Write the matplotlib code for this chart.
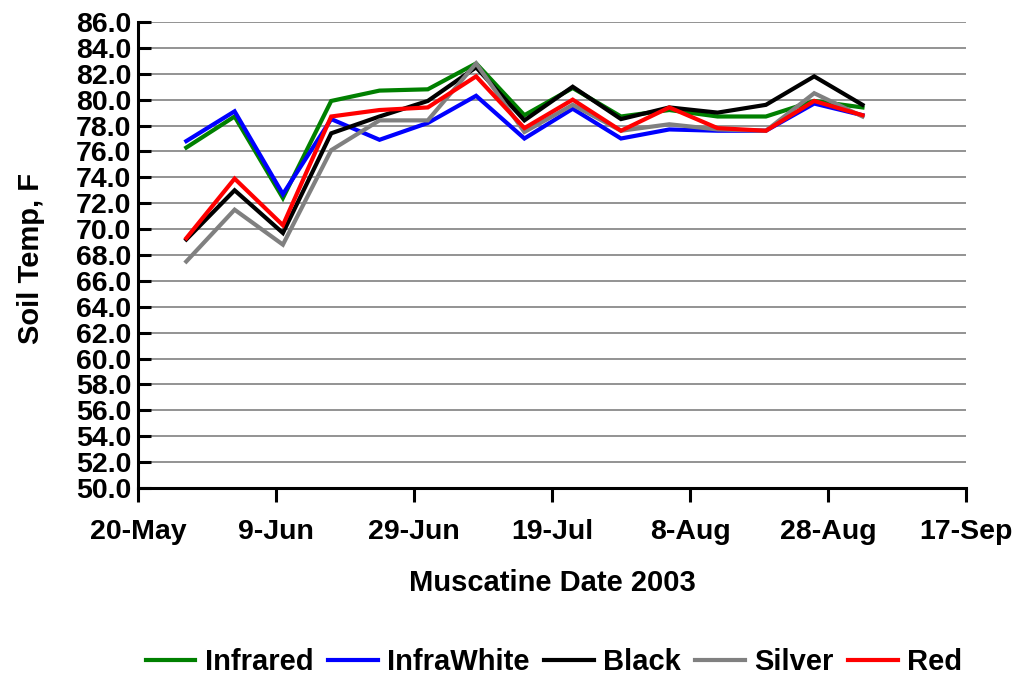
import matplotlib
matplotlib.use("Agg")
import matplotlib.pyplot as plt
import datetime as dt

dates = ["2003-05-27", "2003-06-03", "2003-06-10", "2003-06-17", "2003-06-24",
         "2003-07-01", "2003-07-08", "2003-07-15", "2003-07-22", "2003-07-29",
         "2003-08-05", "2003-08-12", "2003-08-19", "2003-08-26", "2003-09-02"]

infrared   = [76.3, 78.7, 72.4, 79.9, 80.7, 80.8, 82.8, 78.8, 80.9, 78.7, 79.2, 78.7, 78.7, 79.9, 79.4]
infrawhite = [76.8, 79.1, 72.7, 78.5, 76.9, 78.2, 80.3, 77.0, 79.3, 77.0, 77.7, 77.6, 77.6, 79.7, 78.8]
black      = [69.2, 73.0, 69.7, 77.4, 78.7, 79.9, 82.5, 78.4, 81.0, 78.5, 79.4, 79.0, 79.6, 81.8, 79.6]
silver     = [67.5, 71.5, 68.8, 76.1, 78.4, 78.4, 82.8, 77.5, 79.6, 77.6, 78.1, 77.7, 77.6, 80.5, 78.7]
red        = [69.3, 73.9, 70.3, 78.7, 79.2, 79.4, 81.8, 77.8, 80.0, 77.6, 79.4, 77.8, 77.6, 79.9, 78.8]

series_names = ["Infrared", "InfraWhite", "Black", "Silver", "Red"]
series_colors = ["#008000", "#0000FF", "#000000", "#808080", "#FF0000"]

tick_dates = ["2003-05-20", "2003-06-09", "2003-06-29", "2003-07-19",
              "2003-08-08", "2003-08-28", "2003-09-17"]
tick_labels = ["20-May", "9-Jun", "29-Jun", "19-Jul", "8-Aug", "28-Aug", "17-Sep"]

y_ticks = [50 + 2 * i for i in range(19)]

plt.rcParams['font.family'] = ['Liberation Sans', 'DejaVu Sans']
plt.rcParams['font.weight'] = 'bold'

fig = plt.figure(figsize=(10.21, 6.77), dpi=100)
ax = fig.add_axes([138 / 1021, 1 - 488 / 677, (966 - 138) / 1021, (488 - 22) / 677])

x = [dt.datetime.strptime(d, "%Y-%m-%d") for d in dates]
for vals, name, col in zip([infrared, infrawhite, black, silver, red], series_names, series_colors):
    ax.plot(x, vals, color=col, lw=3, label=name, solid_joinstyle='miter', zorder=3)

xt = [dt.datetime.strptime(d, "%Y-%m-%d") for d in tick_dates]
ax.set_xlim(xt[0], xt[-1])
ax.set_xticks(xt)
ax.set_xticklabels(tick_labels, fontsize=20.5, fontweight='bold')
ax.set_ylim(50, 86)
ax.set_yticks(y_ticks)
ax.set_yticklabels([f"{v:.1f}" for v in y_ticks], fontsize=20.5, fontweight='bold')

ax.yaxis.grid(True, color='#808080', lw=1.2, zorder=1)
ax.set_axisbelow(True)
for s in ['top', 'right']:
    ax.spines[s].set_visible(False)
for s in ['left', 'bottom']:
    ax.spines[s].set_linewidth(2.2)
    ax.spines[s].set_color('black')

ax.tick_params(axis='y', direction='in', length=9, width=2.2, pad=5)
ax.tick_params(axis='x', direction='out', length=10, width=2.2, pad=12)

fig.text(552 / 1021, 1 - 583 / 677, "Muscatine Date 2003", ha='center', va='center',
         fontsize=21, fontweight='bold')
fig.text(31 / 1021, 1 - 258 / 677, "Soil Temp, F", ha='center', va='center',
         rotation=90, fontsize=21, fontweight='bold')

fig.legend(loc='center', bbox_to_anchor=(554 / 1021, 1 - 662 / 677), ncol=5,
           frameon=False, handlelength=1.7, handletextpad=0.32,
           columnspacing=0.5, prop={'weight': 'bold', 'size': 21})

fig.savefig("out.png", dpi=100)
